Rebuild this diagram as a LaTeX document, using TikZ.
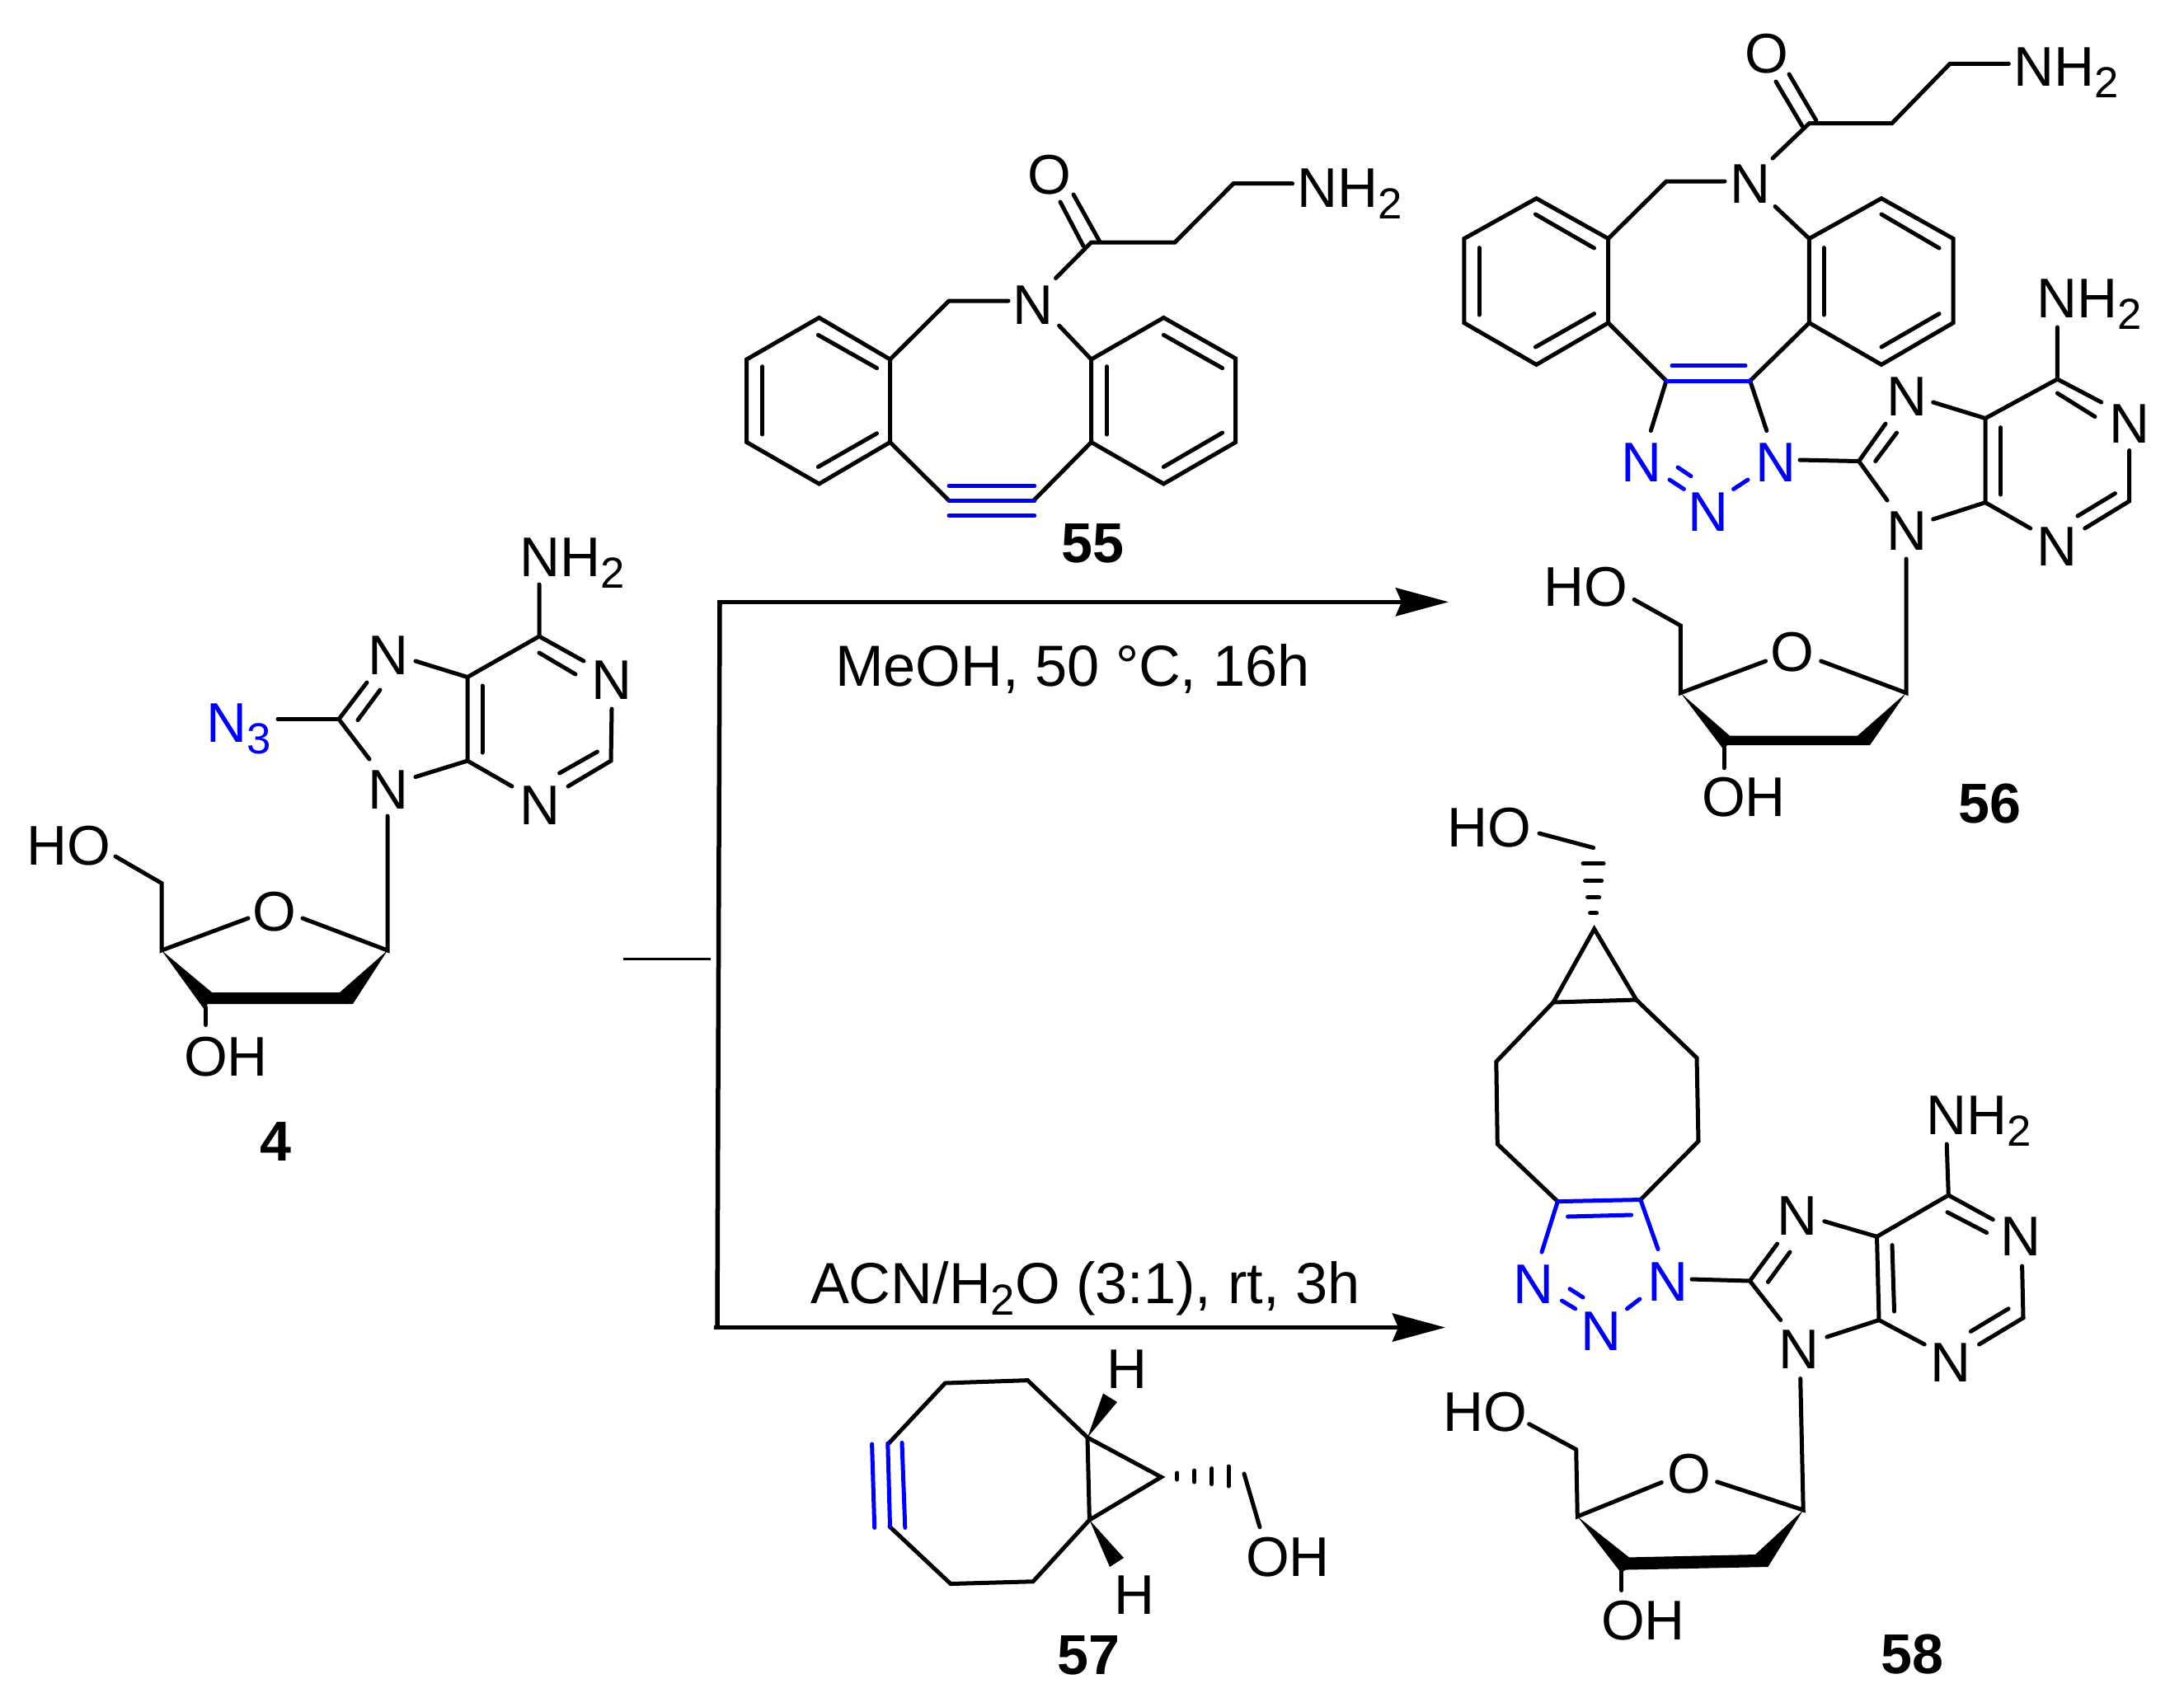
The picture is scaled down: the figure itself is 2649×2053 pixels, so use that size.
\documentclass[tikz,border=0pt]{standalone}
\usepackage{fontspec}
\setmainfont{Liberation Sans}
\usetikzlibrary{arrows.meta}
\definecolor{chemblue}{RGB}{0,0,240}
\newcommand{\chemsub}[1]{\raisebox{-0.14cm}{\fontsize{15pt}{15pt}\selectfont #1}}
\tikzset{
  bond/.style={line width=0.05cm,line cap=round,line join=miter,miter limit=3},
  bluebond/.style={bond,draw=chemblue},
  wedge/.style={fill=black,draw=none},
  rline/.style={line width=0.05cm},
  rarrow/.style={rline,-{Stealth[length=0.64cm,width=0.34cm,inset=0.07cm]}},
  atomc/.style={inner sep=0pt,outer sep=0pt,anchor=base,font=\fontsize{19.3pt}{19.3pt}\selectfont},
  atomw/.style={atomc,anchor=base west},
  blueatom/.style={atomc,text=chemblue},
  cmpd/.style={inner sep=0pt,outer sep=0pt,anchor=base,font=\fontsize{19.4pt}{19.4pt}\selectfont\bfseries},
  cond/.style={inner sep=0pt,outer sep=0pt,anchor=base west,font=\fontsize{20pt}{20pt}\selectfont}
}
\begin{document}
\begin{tikzpicture}[x=0.01cm,y=-0.01cm]
\fill[white] (0,0) rectangle (2649,2053);
\useasboundingbox (0,0) rectangle (2649,2053);

% ---------- compound 4 ----------
\node[atomw] (a4nh2) at (630,699) {NH\chemsub{2}};
\node[atomc] (a4n1) at (742,848) {N};
\node[atomc] (a4n3) at (655,1000) {N};
\node[atomc] (a4n7) at (471,818) {N};
\node[atomc] (a4n9) at (471,981) {N};
\node[atomw,text=chemblue] (a4az) at (250,900) {N\chemsub{3}};
\node[atomc] (a4o) at (333,1129) {O};
\node[atomw] (a4ho) at (32,1049) {HO};
\node[atomw] (a4oh) at (223,1305) {OH};
\node[cmpd] (l4) at (334,1408) {4};
\draw[bond] (654,709)--(654,772)--(708,802);
\draw[bond] (654,792)--(698,818);
\draw[bond] (742,860)--(741,923)--(689,954);
\draw[bond] (724.5,912)--(678.6,938);
\draw[bond] (621,954)--(567,923)--(567,821.5)--(654,772);
\draw[bond] (585,832)--(585,913);
\draw[bond] (567,821.5)--(504,802);
\draw[bond] (445,828)--(411,872.5)--(448,921);
\draw[bond] (461,837)--(434,873.6);
\draw[bond] (411,872.5)--(337,872.5);
\draw[bond] (504,942.5)--(567,923);
\draw[bond] (470,990)--(470,1153)--(367,1114);
\draw[bond] (301,1114)--(196,1153)--(196,1071.5)--(140,1039);
\fill[wedge] (196,1153)--(257,1204)--(412,1204)--(470,1153)--(428,1218)--(252,1218)--(248,1225)--cycle;
\draw[bond] (249.5,1222)--(249.5,1243.5);

% ---------- compound 55 ----------
\node[atomc] (b55o) at (1273,235) {O};
\node[atomw] (b55nh2) at (1573,251) {NH\chemsub{2}};
\node[atomc] (b55n) at (1253,393) {N};
\node[cmpd] (l55) at (1325,682) {55};
\draw[bond] (1302,236)--(1334,293.5);
\draw[bond] (1286,245)--(1314,298.5);
\draw[bond] (1280.5,337.5)--(1323.6,294)--(1425,294)--(1496,222.7)--(1567.6,222.7);
\draw[bond] (1223,365)--(1151,365)--(1079.6,436);
\draw[bond] (993.5,385.4)--(1079.6,436)--(1079.6,536.5)--(993.5,587)--(905.7,536.5)--(905.7,436)--cycle;
\draw[bond] (992.4,406.4)--(1063.5,446.6);
\draw[bond] (1063.5,525.8)--(992.4,566.4);
\draw[bond] (924.6,444.7)--(924.6,527);
\draw[bond] (1323.6,436)--(1411.4,385.4)--(1498.7,435)--(1498.7,536.5)--(1411.4,587)--(1323.6,536.5)--cycle;
\draw[bond] (1342.5,444.7)--(1342.5,527);
\draw[bond] (1411.4,406.4)--(1482.6,446.6);
\draw[bond] (1411.4,566.4)--(1482.6,525);
\draw[bond] (1284.6,395)--(1323.6,436);
\draw[bond] (1079.6,536.5)--(1151,607.3);
\draw[bond] (1323.6,536.5)--(1253.6,607.3);
\draw[bluebond] (1151,589.3)--(1254.7,589.3);
\draw[bluebond] (1151,607.3)--(1254.7,607.3);
\draw[bluebond] (1151,625.3)--(1254.7,625.3);

% ---------- scheme lines ----------
\coordinate (topstart) at (870,730.3);
\coordinate (toptip) at (1757,730.3);
\coordinate (botstart) at (866,1610.5);
\coordinate (bottip) at (1753,1610.5);
\coordinate (stubl) at (756,1163.6);
\coordinate (stubr) at (862,1163.6);
\coordinate (bracktop) at (873,730);
\coordinate (brackbot) at (870,1610);
\draw[rarrow] (topstart)--(toptip);
\draw[rarrow] (botstart)--(bottip);
\draw[line width=0.055cm] (bracktop)--(brackbot);
\draw[line width=0.035cm] (stubl)--(stubr);
\node[cond] (c1) at (1013,832) {MeOH, 50 °C, 16h};
\node[cond] (c2) at (983,1581) {ACN/H\chemsub{2}O (3:1), rt, 3h};

% ---------- compound 56 ----------
\node[atomc] (c56o) at (2143,88) {O};
\node[atomw] (c56nh2) at (2442,104) {NH\chemsub{2}};
\node[atomc] (c56n) at (2122.7,246) {N};
\node[blueatom] (c56na) at (1991,584) {N};
\node[blueatom] (c56nb) at (2154,584) {N};
\node[blueatom] (c56nc) at (2072,644) {N};
\node[atomc] (c56n7) at (2312.5,504) {N};
\node[atomc] (c56n9) at (2312.5,667) {N};
\node[atomw] (c56nh2b) at (2470.5,385) {NH\chemsub{2}};
\node[atomc] (c56n1) at (2583,537) {N};
\node[atomc] (c56n3) at (2495,686.4) {N};
\node[atomc] (c56ox) at (2174,814.6) {O};
\node[atomw] (c56ho) at (1872,735) {HO};
\node[atomw] (c56oh) at (2064,990) {OH};
\node[cmpd] (l56) at (2413,998.7) {56};
\draw[bond] (2170,90)--(2203,146.4);
\draw[bond] (2154,99)--(2186,153);
\draw[bond] (2150,192)--(2194.4,149.6)--(2294.7,149.6)--(2365,77.4)--(2436.4,77.4);
\draw[bond] (2092,220)--(2021,220)--(1950.7,289.5);
\draw[bond] (1863.5,240.7)--(1950.7,289.5)--(1950.7,391.7)--(1863.5,442.4)--(1775.8,391.7)--(1775.8,289.5)--cycle;
\draw[bond] (1862.4,260)--(1933.5,301);
\draw[bond] (1933.5,380.6)--(1862.4,421);
\draw[bond] (1794,300.6)--(1794,382);
\draw[bond] (2194.4,289.5)--(2282,240.7)--(2369,289.5)--(2369,391.7)--(2282,442.4)--(2194.4,391.7)--cycle;
\draw[bond] (2212,300.6)--(2212,382);
\draw[bond] (2282,260)--(2352,301);
\draw[bond] (2282,421)--(2352,380.6);
\draw[bond] (2153,250.5)--(2194.4,289.5);
\draw[bond] (1950.7,391.7)--(2021,462)--(2002.3,522.5);
\draw[bond] (2194.4,391.7)--(2122.7,462)--(2142.8,522.5);
\draw[bluebond] (2021,462)--(2122.7,462);
\draw[bluebond] (2028,443.7)--(2117,443.7);
\draw[bluebond] (2035,567)--(2051,577.7);
\draw[bluebond] (2025,582)--(2042.4,593.4);
\draw[bluebond] (2102.6,593.4)--(2120,582);
\draw[bond] (2183,558)--(2254.6,559.5)--(2287,514);
\draw[bond] (2274.7,559.5)--(2300.5,525);
\draw[bond] (2344.6,488)--(2408,507.5)--(2495.4,460)--(2495.4,397);
\draw[bond] (2495.4,460)--(2548.7,488);
\draw[bond] (2495.4,477)--(2541,505.5);
\draw[bond] (2582.6,546.5)--(2582.6,608)--(2528.7,641);
\draw[bond] (2565.4,598.6)--(2520,626);
\draw[bond] (2462.7,641)--(2408,609.6)--(2408,507.5);
\draw[bond] (2426.6,518.6)--(2426.6,600);
\draw[bond] (2408,609.6)--(2344.6,630);
\draw[bond] (2254.6,559.5)--(2289,607);
\draw[bond] (2312,678)--(2312,840.6)--(2208.7,802);
\draw[bond] (2141.6,802)--(2038.4,840.6)--(2038.4,759)--(1982,727.4);
\fill[wedge] (2038.4,840.6)--(2098,892.6)--(2253,892.6)--(2312,840.6)--(2268,904)--(2095,904)--(2091,910)--cycle;
\draw[bond] (2091,907)--(2091,931.7);

% ---------- compound 57 ----------
\node[atomc] (d57ha) at (1367,1684) {H};
\node[atomc] (d57hb) at (1375.5,1958) {H};
\node[atomw] (d57oh) at (1511,1912.7) {OH};
\node[cmpd] (l57) at (1320.5,2031) {57};
\draw[bond] (1078,1751)--(1146.4,1678)--(1246.4,1674.6)--(1319,1744)--(1321.4,1844)--(1253,1918.7)--(1153,1921.5)--(1079,1852);
\draw[bond] (1319,1744)--(1408.5,1792)--(1321.4,1844);
\draw[bluebond] (1076.8,1751)--(1079.5,1852);
\draw[bluebond] (1057.6,1752)--(1060.7,1853.4);
\draw[bluebond] (1094,1750.4)--(1097.8,1853.4);
\fill[wedge] (1319,1744)--(1338,1690.5)--(1355,1701)--cycle;
\fill[wedge] (1321.4,1844)--(1363,1890)--(1346,1901)--cycle;
\draw[bond] (1427.7,1787)--(1427.7,1795);
\draw[bond] (1448.7,1784)--(1448.7,1798);
\draw[bond] (1469.8,1781.5)--(1469.8,1800.5);
\draw[bond] (1490,1779)--(1490,1803);
\draw[bond] (1509,1788)--(1528,1852.7);

% ---------- compound 58 ----------
\node[atomw] (e58hoa) at (1755,1027) {HO};
\node[blueatom] (e58na) at (1859.7,1581.6) {N};
\node[blueatom] (e58nb) at (2023,1578) {N};
\node[blueatom] (e58nc) at (1942.3,1638) {N};
\node[atomc] (e58n7) at (2180,1498) {N};
\node[atomc] (e58n9) at (2182,1660.8) {N};
\node[atomw] (e58nh2) at (2336,1376.3) {NH\chemsub{2}};
\node[atomc] (e58n1) at (2450.5,1523) {N};
\node[atomc] (e58n3) at (2366.3,1676) {N};
\node[atomc] (e58o) at (2048.5,1811.6) {O};
\node[atomw] (e58hob) at (1750,1736.5) {HO};
\node[atomw] (e58oh) at (1942,1989) {OH};
\node[cmpd] (l58) at (2319,2030.6) {58};
\draw[bond] (1867,1011)--(1932.6,1028.5);
\draw[bond] (1920,1047.8)--(1945,1047.8);
\draw[bond] (1922.6,1068.5)--(1942.6,1068.5);
\draw[bond] (1925.6,1088.5)--(1939.6,1088.5);
\draw[bond] (1928.6,1107.7)--(1936.6,1107.7);
\draw[bond] (1884,1216)--(1933.7,1127)--(1984.7,1213)--cycle;
\draw[bond] (1884,1216)--(1814.8,1288)--(1816.3,1388)--(1889.3,1457.6);
\draw[bond] (1984.7,1213)--(2058,1283.4)--(2060,1384.6)--(1989.8,1455.5);
\draw[bluebond] (1870,1519)--(1889.3,1457.6)--(1989.8,1455.5)--(2011,1515.5);
\draw[bluebond] (1901.5,1476)--(1978.6,1474);
\draw[bluebond] (1904,1563.7)--(1920,1574);
\draw[bluebond] (1894.4,1578)--(1910.7,1587.8);
\draw[bluebond] (1973.5,1587.8)--(1988.8,1576);
\draw[bond] (2052,1552)--(2122.4,1554)--(2155.6,1509);
\draw[bond] (2144.4,1555.4)--(2171,1519);
\draw[bond] (2212.8,1481.7)--(2276.5,1500.3)--(2363.3,1450)--(2361.2,1388);
\draw[bond] (2363.3,1450)--(2417.3,1479.6);
\draw[bond] (2362,1470.7)--(2409.7,1495.5);
\draw[bond] (2452.6,1536)--(2454,1598.8)--(2400.5,1631);
\draw[bond] (2436,1587.8)--(2390.3,1615.3);
\draw[bond] (2334.2,1631)--(2279,1601.5)--(2276.5,1500.3);
\draw[bond] (2297.5,1591)--(2295,1510.6);
\draw[bond] (2279,1601.5)--(2215.8,1622);
\draw[bond] (2122.4,1554)--(2159.7,1601.5);
\draw[bond] (2183.7,1672.5)--(2187.2,1832)--(2082.6,1797.8);
\draw[bond] (2015.3,1798.5)--(1913.3,1839.8)--(1911.7,1758.5)--(1854.6,1727.6);
\fill[wedge] (1913.3,1839.8)--(1976,1889.4)--(2129,1886)--(2187.2,1832)--(2144.4,1901)--(1972,1904.5)--(1966,1908)--cycle;
\draw[bond] (1966.8,1905)--(1966.8,1929.4);
\end{tikzpicture}
\end{document}
